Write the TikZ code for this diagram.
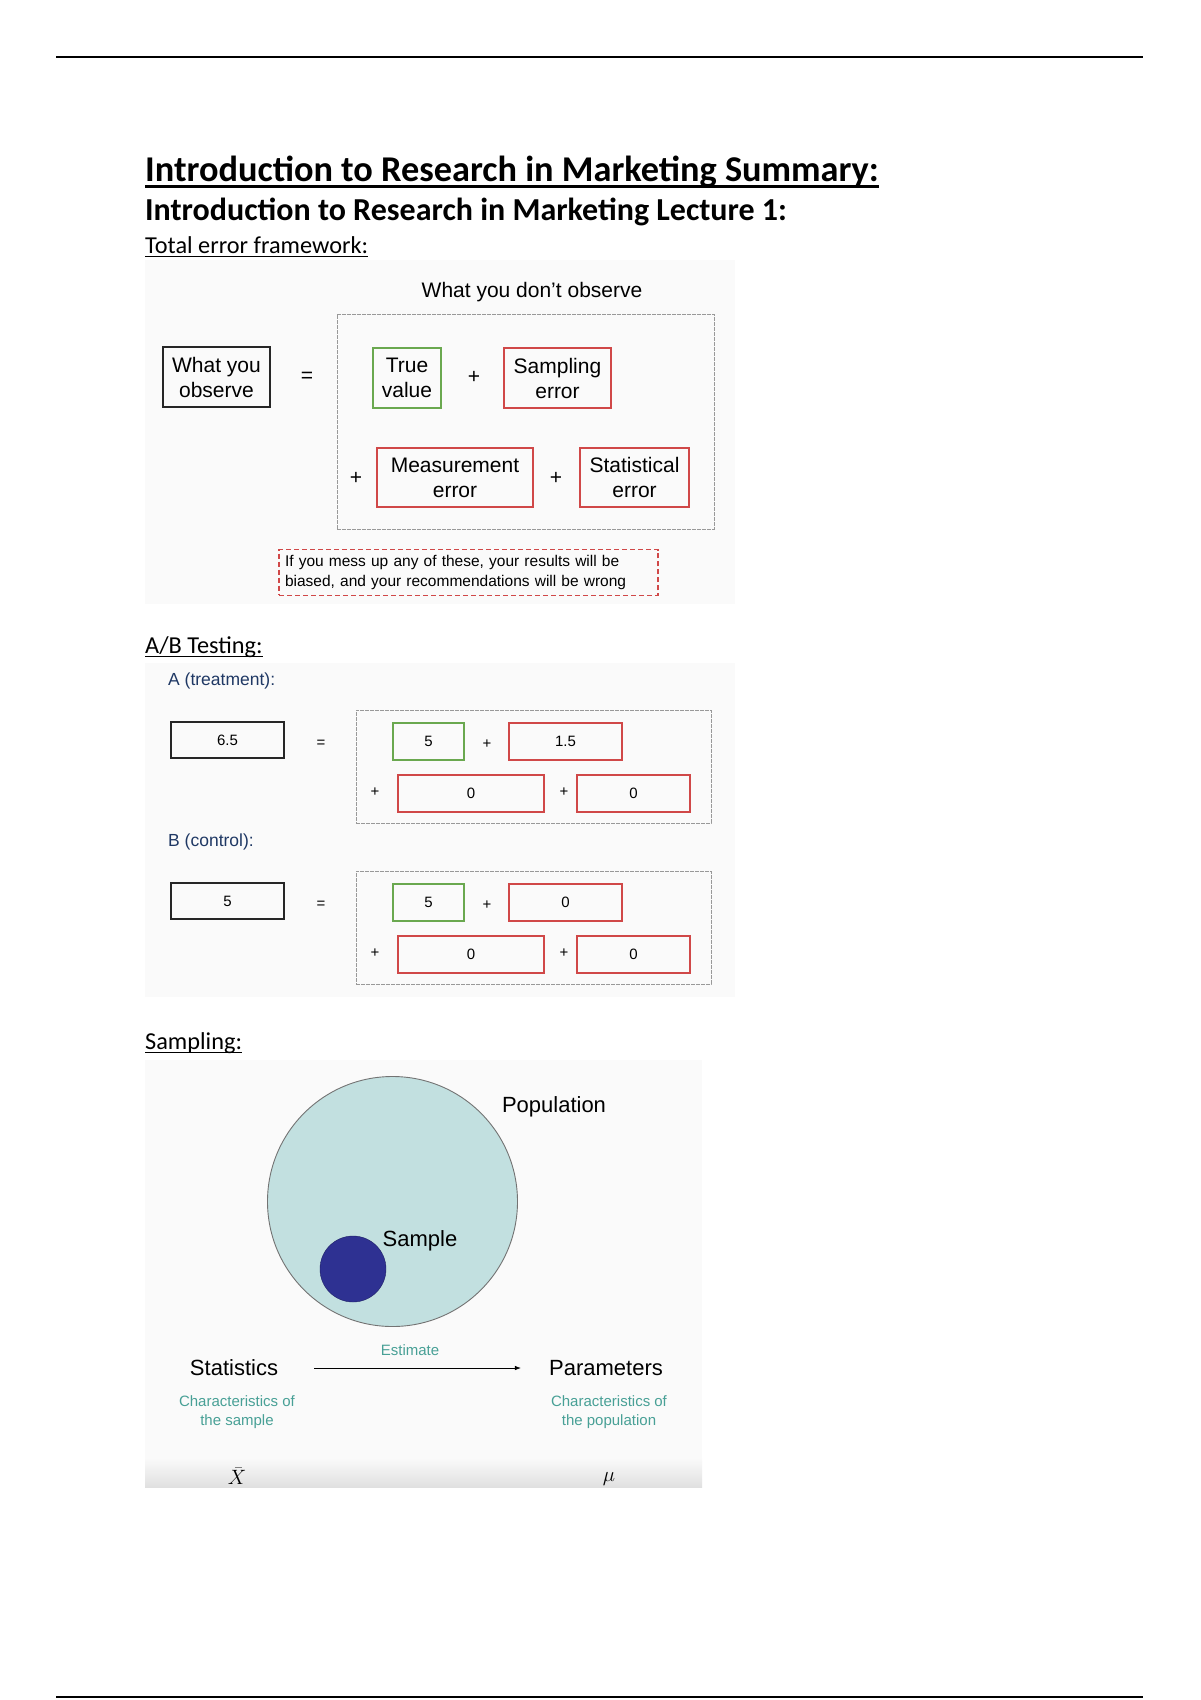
\documentclass[tikz,border=0pt]{standalone}
\usepackage{fontspec}
\setmainfont{Carlito}
\newfontfamily\arialfont{Liberation Sans}
\usetikzlibrary{arrows.meta,positioning}
\definecolor{trueGreen}{RGB}{106,168,79}
\definecolor{errRed}{RGB}{208,72,72}
\definecolor{groupNavy}{RGB}{31,56,100}
\definecolor{noteTeal}{RGB}{72,160,150}
\definecolor{popFill}{RGB}{194,224,224}
\definecolor{sampFill}{RGB}{46,49,146}

\begin{document}
\begin{tikzpicture}[x=1pt,y=-1pt,
  heading/.style={inner sep=0pt, anchor=base west},
  bigtext/.style={inner sep=0pt, align=center, font=\arialfont\fontsize{21}{25}\selectfont},
  smalltext/.style={inner sep=0pt, font=\arialfont\fontsize{15}{18}\selectfont},
  notetext/.style={inner sep=0pt, align=center, text=noteTeal, font=\arialfont\fontsize{15}{19.5}\selectfont},
  obsbox/.style={draw=black!85, line width=1.8pt, inner sep=0pt, align=center},
  truebox/.style={draw=trueGreen, line width=1.4pt, inner sep=0pt, align=center},
  errbox/.style={draw=errRed, line width=1.4pt, inner sep=0pt, align=center},
  greybox/.style={draw=black!40, line width=0.9pt, dash pattern=on 4pt off 1pt, inner sep=0pt}]
\useasboundingbox (0,0) rectangle (1200,1700);
\fill[white] (0,0) rectangle (1200,1700);
\draw[line width=1.5pt] (56,57) -- (1143,57);
\draw[line width=1.5pt] (56,1697) -- (1143,1697);

\node[heading, font=\bfseries\fontsize{36.3}{42}\selectfont] (title) at (145,181) {Introduction to Research in Marketing Summary:};
\draw[line width=2.6pt] ([yshift=-5.5pt]title.base west) -- ([yshift=-5.5pt]title.base east);
\node[heading, font=\bfseries\fontsize{32}{38}\selectfont] (lecture) at (145,220) {Introduction to Research in Marketing Lecture 1:};

% total error framework
\node[heading, font=\fontsize{24.3}{29}\selectfont] (framework) at (145,253) {Total error framework:};
\draw[line width=1.3pt] ([yshift=-3.5pt]framework.base west) -- ([yshift=-3.5pt]framework.base east);
\fill[black!2] (145,260) rectangle (735,604);
\node[bigtext] (unseen) at (532,292) {What you don’t observe};
\node[greybox, minimum width=377pt, minimum height=215pt] (unseenbox) at (525.5,421.5) {};
\node[obsbox, bigtext, minimum width=107pt, minimum height=60pt] (observed) at (216.5,377) {What you\\observe};
\node[bigtext] (eqsign) at (307,377) {=};
\node[truebox, bigtext, minimum width=68pt, minimum height=60pt] (truevalue) at (407,378) {True\\value};
\node[bigtext] (plusa) at (474,377) {+};
\node[errbox, bigtext, minimum width=107pt, minimum height=60pt] (samperr) at (557.5,378) {Sampling\\error};
\node[bigtext] (plusb) at (356,478) {+};
\node[errbox, bigtext, minimum width=156pt, minimum height=59pt] (measerr) at (455,477.5) {Measurement\\error};
\node[bigtext] (plusc) at (556,478) {+};
\node[errbox, bigtext, minimum width=109pt, minimum height=59pt] (staterr) at (634.5,477.5) {Statistical\\error};
\node[draw=errRed, line width=1.4pt, dash pattern=on 5pt off 3pt, inner sep=6pt, text width=367pt, minimum height=45pt, align=left, font=\arialfont\fontsize{15.5}{19.5}\selectfont] (warning) at (468.5,572.5) {If you mess up any of these, your results will be\\biased, and your recommendations will be wrong};

% A/B testing
\node[heading, font=\fontsize{24.3}{29}\selectfont] (abtitle) at (145,653) {A/B Testing:};
\draw[line width=1.3pt] ([yshift=-3.5pt]abtitle.base west) -- ([yshift=-3.5pt]abtitle.base east);
\fill[black!2] (145,663) rectangle (735,997);
\foreach \grp/\dy/\obsval/\sampval/\grplabel in {a/0/6.5/1.5/A (treatment):, b/161/5/0/B (control):}
{
    \node[smalltext, anchor=west, text=groupNavy, font=\arialfont\fontsize{17.5}{20}\selectfont] (label\grp) at (168,681+\dy) {\grplabel};
    \node[greybox, minimum width=355pt, minimum height=113pt] (abbox\grp) at (533.5,766.5+\dy) {};
    \node[obsbox, smalltext, minimum width=113pt, minimum height=36pt] (abobs\grp) at (227.5,740+\dy) {\obsval};
    \node[smalltext] (abeq\grp) at (321,744+\dy) {=};
    \node[truebox, smalltext, minimum width=71pt, minimum height=37pt] (abtrue\grp) at (428.5,741.5+\dy) {5};
    \node[smalltext] (abplusa\grp) at (487,744+\dy) {+};
    \node[errbox, smalltext, minimum width=113pt, minimum height=37pt] (absamp\grp) at (565.5,741.5+\dy) {\sampval};
    \node[smalltext] (abplusb\grp) at (375,792+\dy) {+};
    \node[errbox, smalltext, minimum width=146pt, minimum height=37pt] (abmeas\grp) at (471,793.5+\dy) {0};
    \node[smalltext] (abplusc\grp) at (564,792+\dy) {+};
    \node[errbox, smalltext, minimum width=113pt, minimum height=37pt] (abstat\grp) at (633.5,793.5+\dy) {0};
}

% sampling
\node[heading, font=\fontsize{24.3}{29}\selectfont] (sampling) at (145,1049) {Sampling:};
\draw[line width=1.3pt] ([yshift=-3.5pt]sampling.base west) -- ([yshift=-3.5pt]sampling.base east);
\fill[black!2] (145,1060) rectangle (702,1487);
\shade[top color=black!2, bottom color=black!12] (145,1458) rectangle (702,1487);
\node[circle, fill=popFill, draw=black!55, line width=0.9pt, minimum size=250pt, inner sep=0pt] (population) at (392.5,1201.5) {};
\node[circle, fill=sampFill, draw=sampFill!70!black, minimum size=66pt, inner sep=0pt] (sample) at (353,1269) {};
\node[bigtext, font=\arialfont\fontsize{22}{26}\selectfont] (poplabel) at (554,1107) {Population};
\node[bigtext, font=\arialfont\fontsize{22}{26}\selectfont] (samplabel) at (420,1241) {Sample};
\node[bigtext, font=\arialfont\fontsize{22}{26}\selectfont] (stats) at (234,1368) {Statistics};
\node[bigtext, font=\arialfont\fontsize{22}{26}\selectfont] (params) at (606,1368) {Parameters};
\node[notetext] (estimate) at (410,1350) {Estimate};
\draw[-{Latex[length=6pt,width=4.5pt]}, line width=0.8pt, shorten <=36pt, shorten >=28pt] (stats) -- (params);
\node[notetext] (statsnote) at (237,1412) {Characteristics of\\the sample};
\node[notetext] (paramsnote) at (609,1412) {Characteristics of\\the population};
\node[inner sep=0pt, font=\fontsize{20}{24}\selectfont] (xbar) at (237,1476) {$\bar{X}$};
\node[inner sep=0pt, font=\fontsize{20}{24}\selectfont] (mu) at (609,1479) {$\mu$};
\end{tikzpicture}
\end{document}
